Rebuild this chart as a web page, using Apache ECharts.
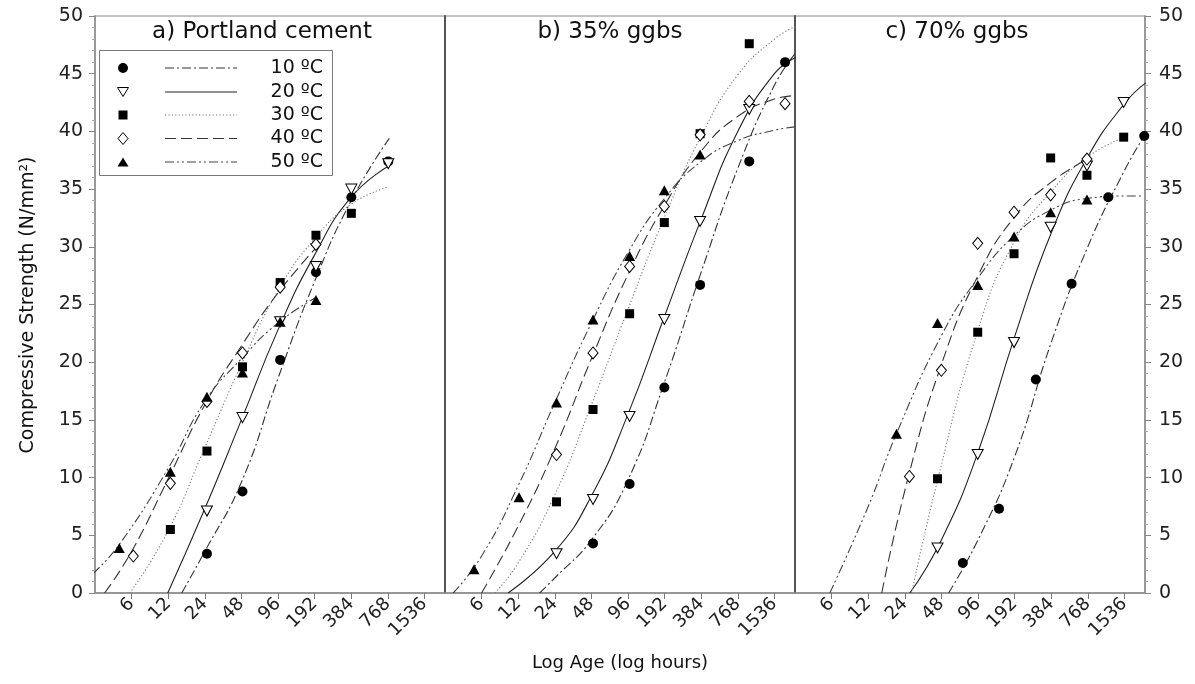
<!DOCTYPE html>
<html><head><meta charset="utf-8">
<script src="https://cdn.jsdelivr.net/npm/echarts@6/dist/echarts.min.js"></script>
<style>html,body{margin:0;padding:0;background:#fff}#c{width:1195px;height:684px}</style>
</head><body><div id="c"></div>
<script>
// ---------- data (age in hours, strength in N/mm2) ----------
const xTickHours = [6, 12, 24, 48, 96, 192, 384, 768, 1536];
const xTickLabels = ['6', '12', '24', '48', '96', '192', '384', '768', '1536'];
const tempLabels = ['10 ºC', '20 ºC', '30 ºC', '40 ºC', '50 ºC'];
const panelTitles = ['a) Portland cement', 'b) 35% ggbs', 'c) 70% ggbs'];

// a) Portland cement — measured
const pc10 = [[25, 3.4], [49, 8.8], [100, 20.2], [197, 27.8], [385, 34.3], [775, 37.4]];
const pc20 = [[25, 7.1], [49, 15.2], [100, 23.5], [197, 28.3], [385, 35.0], [775, 37.2]];
const pc30 = [[12.5, 5.5], [25, 12.3], [49, 19.6], [100, 26.9], [197, 31.0], [385, 32.9]];
const pc40 = [[6.2, 3.2], [12.5, 9.5], [25, 16.6], [49, 20.8], [100, 26.5], [197, 30.2]];
const pc50 = [[4.75, 3.9], [12.5, 10.5], [25, 17.0], [49, 19.1], [100, 23.5], [197, 25.4]];
// a) fitted curves
const pcFit10 = [[15.5, 0], [24, 3.6], [48, 9.6], [96, 18.6], [192, 27.0], [384, 34.0], [790, 39.4]];
const pcFit20 = [[11.9, 0], [24, 7.3], [48, 15.0], [96, 22.8], [192, 29.3], [384, 34.3], [780, 37.0]];
const pcFit30 = [[5.8, 0], [12, 5.4], [24, 12.6], [48, 19.8], [96, 26.2], [192, 30.7], [384, 33.7], [780, 35.2]];
const pcFit40 = [[3.6, 0], [6, 3.6], [12, 9.9], [24, 16.3], [48, 21.4], [96, 26.0], [197, 29.9]];
const pcFit50 = [[2.9, 1.7], [4.75, 4.2], [12, 10.8], [24, 16.6], [48, 20.3], [96, 23.4], [197, 25.6]];

// b) 35% ggbs — measured
const g35_10 = [[49.5, 4.3], [99, 9.45], [191, 17.8], [376, 26.7], [954, 37.4], [1880, 46.0]];
const g35_20 = [[24.8, 3.4], [49.5, 8.1], [99, 15.3], [191, 23.7], [376, 32.2], [954, 41.9]];
const g35_30 = [[24.8, 7.9], [49.5, 15.9], [99, 24.2], [191, 32.1], [376, 39.8], [954, 47.6]];
const g35_40 = [[24.8, 12.0], [49.5, 20.8], [99, 28.3], [191, 33.5], [376, 39.7], [954, 42.6], [1880, 42.4]];
const g35_50 = [[5.2, 2.05], [12.2, 8.3], [24.8, 16.5], [49.5, 23.7], [99, 29.2], [191, 34.9], [376, 38.0]];
// b) fitted curves
const g35Fit10 = [[18, 0], [24, 1.3], [48, 4.6], [96, 9.8], [192, 18.3], [384, 27.8], [768, 36.8], [1536, 44.0], [2300, 46.8]];
const g35Fit20 = [[9.9, 0], [24, 3.6], [48, 8.4], [96, 15.5], [192, 24.0], [384, 32.4], [768, 40.0], [1536, 45.0], [2300, 46.4]];
const g35Fit30 = [[7.7, 0], [12, 2.6], [24, 8.5], [48, 16.3], [96, 24.6], [192, 32.6], [384, 39.6], [768, 44.9], [1536, 48.0], [2300, 49.1]];
const g35Fit40 = [[6, 0], [12, 5.8], [24, 12.5], [48, 20.3], [96, 27.6], [192, 33.6], [384, 38.3], [768, 41.3], [1536, 42.8], [2300, 43.1]];
const g35Fit50 = [[3.5, 0], [6, 3.2], [12, 9.3], [24, 16.5], [48, 23.4], [96, 29.5], [192, 34.2], [384, 37.4], [768, 39.2], [1536, 40.1], [2300, 40.4]];

// c) 70% ggbs — measured
const g70_10 = [[72, 2.6], [143, 7.3], [287, 18.5], [565, 26.8], [1131, 34.3], [2236, 39.6]];
const g70_20 = [[44.6, 3.9], [95.5, 12.0], [190, 21.7], [380, 31.7], [756, 37.0], [1515, 42.5]];
const g70_30 = [[44.6, 9.9], [95.5, 22.6], [190, 29.4], [380, 37.7], [756, 36.2], [1515, 39.5]];
const g70_40 = [[26.2, 10.1], [48, 19.3], [95.5, 30.3], [190, 33.0], [380, 34.5], [756, 37.6]];
const g70_50 = [[20.5, 13.8], [44.6, 23.4], [95.5, 26.7], [190, 30.9], [380, 33.0], [756, 34.1]];
// c) fitted curves
const g70Fit10 = [[55, 0], [96, 4.6], [192, 11.8], [384, 21.7], [768, 30.0], [1536, 36.6], [2236, 39.6]];
const g70Fit20 = [[26.4, 0], [48, 4.6], [96, 12.2], [192, 22.2], [384, 31.2], [768, 37.8], [1536, 42.4], [2300, 44.2]];
const g70Fit30 = [[27.3, 0], [44, 9.5], [96, 22.8], [192, 30.5], [384, 34.8], [768, 37.8], [1536, 39.5]];
const g70Fit40 = [[15.5, 0], [26, 10.3], [48, 19.8], [96, 27.5], [192, 32.6], [384, 35.6], [768, 37.6]];
const g70Fit50 = [[5.8, 0], [12, 7.5], [20.5, 13.8], [48, 22.3], [96, 27.3], [192, 31.0], [384, 33.2], [768, 34.2], [1536, 34.4], [2200, 34.4]];

// ---------- build ----------
const panels = [
  { pts: [pc10, pc20, pc30, pc40, pc50], fits: [pcFit10, pcFit20, pcFit30, pcFit40, pcFit50] },
  { pts: [g35_10, g35_20, g35_30, g35_40, g35_50], fits: [g35Fit10, g35Fit20, g35Fit30, g35Fit40, g35Fit50] },
  { pts: [g70_10, g70_20, g70_30, g70_40, g70_50], fits: [g70Fit10, g70Fit20, g70Fit30, g70Fit40, g70Fit50] }
];

const FONT = 'DejaVu Sans';
const lx = h => Math.log2(h / 3);
const X_MAX = 350 / 36.6;

const symbols = ['circle', 'path://M0,0L10,0L5,9Z', 'rect', 'diamond', 'triangle'];
const symSizes = [10, [11, 10], 9, [10, 12], [11, 10]];
const fills = ['#000', '#fff', '#000', '#fff', '#000'];
const dashes = [[9, 3, 2, 3], 'solid', [1.2, 2.2], [11, 5], [9, 3, 2, 3, 2, 3]];
const lineColors = ['#333', '#222', '#777', '#333', '#444'];

const gridLefts = [95, 445, 795];
const grids = gridLefts.map(l => ({ left: l, top: 16, width: 350, height: 577, show: true, borderColor: '#888', borderWidth: 1, backgroundColor: 'transparent' }));

const tickVals = xTickHours.map(lx);
const xAxes = [0, 1, 2].map(i => ({
  type: 'value', gridIndex: i, min: 0, max: X_MAX,
  splitLine: { show: false },
  axisLine: { show: true, lineStyle: { color: '#888', width: 1.5 } },
  axisTick: { show: true, customValues: tickVals, length: 6, lineStyle: { color: '#777' } },
  axisLabel: {
    show: true, customValues: tickVals, rotate: 45, margin: 8,
    fontFamily: FONT, fontSize: 18, color: '#222',
    formatter: v => { const k = tickVals.findIndex(t => Math.abs(t - v) < 1e-6); return k >= 0 ? xTickLabels[k] : ''; }
  }
}));

const yBase = { type: 'value', min: 0, max: 50, interval: 5, splitLine: { show: false } };
const yAxes = [
  Object.assign({}, yBase, {
    gridIndex: 0, position: 'left',
    axisLine: { show: true, lineStyle: { color: '#999', width: 2 } },
    axisTick: { show: true, length: 6, lineStyle: { color: '#888' } },
    minorTick: { show: true, splitNumber: 5, length: 3, lineStyle: { color: '#aaa' } },
    axisLabel: { margin: 12, fontFamily: FONT, fontSize: 19, color: '#222' }
  }),
  Object.assign({}, yBase, {
    gridIndex: 1, position: 'left',
    axisLine: { show: true, lineStyle: { color: '#555', width: 2 } },
    axisTick: { show: false }, axisLabel: { show: false }
  }),
  Object.assign({}, yBase, {
    gridIndex: 2, position: 'left',
    axisLine: { show: true, lineStyle: { color: '#555', width: 2 } },
    axisTick: { show: false }, axisLabel: { show: false }
  }),
  Object.assign({}, yBase, {
    gridIndex: 2, position: 'right',
    axisLine: { show: true, lineStyle: { color: '#999', width: 2 } },
    axisTick: { show: true, length: 6, lineStyle: { color: '#888' } },
    minorTick: { show: true, splitNumber: 5, length: 3, lineStyle: { color: '#aaa' } },
    axisLabel: { margin: 14, fontFamily: FONT, fontSize: 19, color: '#222' }
  })
];

const series = [];
panels.forEach((p, pi) => {
  p.fits.forEach((f, ti) => {
    series.push({
      type: 'line', xAxisIndex: pi, yAxisIndex: pi, name: tempLabels[ti] + ' fit ' + pi,
      data: f.map(([h, v]) => [lx(h), v]),
      showSymbol: false, symbol: 'none', smooth: 0.5,
      lineStyle: { color: lineColors[ti], width: 1.1, type: dashes[ti] },
      silent: true, z: 2
    });
  });
  p.pts.forEach((d, ti) => {
    series.push({
      type: 'scatter', xAxisIndex: pi, yAxisIndex: pi, name: tempLabels[ti] + ' ' + pi,
      data: d.map(([h, v]) => [lx(h), v]),
      symbol: symbols[ti], symbolSize: symSizes[ti], clip: false,
      itemStyle: { color: fills[ti], borderColor: '#000', borderWidth: fills[ti] === '#fff' ? 1 : 0, opacity: 1 },
      z: 3
    });
  });
});

// legend (graphic) inside panel a
const legRows = [68, 92, 115, 138.5, 162];
const legX = 123;
const legendEls = [
  { type: 'rect', shape: { x: 99.5, y: 50.5, width: 233, height: 125 }, style: { fill: '#fff', stroke: '#777', lineWidth: 1 }, z: 10 }
];
const mk = [
  y => ({ type: 'circle', shape: { cx: legX, cy: y, r: 5 }, style: { fill: '#000' } }),
  y => ({ type: 'polygon', shape: { points: [[legX - 5.5, y - 4.5], [legX + 5.5, y - 4.5], [legX, y + 4.5]] }, style: { fill: '#fff', stroke: '#000', lineWidth: 1 } }),
  y => ({ type: 'rect', shape: { x: legX - 4.5, y: y - 4.5, width: 9, height: 9 }, style: { fill: '#000' } }),
  y => ({ type: 'polygon', shape: { points: [[legX, y - 6], [legX + 5, y], [legX, y + 6], [legX - 5, y]] }, style: { fill: '#fff', stroke: '#000', lineWidth: 1 } }),
  y => ({ type: 'polygon', shape: { points: [[legX - 5.5, y + 4.5], [legX + 5.5, y + 4.5], [legX, y - 4.5]] }, style: { fill: '#000' } })
];
legRows.forEach((y, i) => {
  const m = mk[i](y); m.z = 11; legendEls.push(m);
  legendEls.push({
    type: 'line', shape: { x1: 165, y1: y, x2: 237, y2: y }, z: 11,
    style: { stroke: lineColors[i], lineWidth: 1.1, lineDash: dashes[i] === 'solid' ? null : dashes[i] }
  });
  legendEls.push({
    type: 'text', x: 323, y: y, z: 11,
    style: { text: tempLabels[i], align: 'right', verticalAlign: 'middle', fontFamily: FONT, fontSize: 19, fill: '#111' }
  });
});

const titleCenters = [262, 610, 957];
const titleEls = panelTitles.map((t, i) => ({
  type: 'text', x: titleCenters[i], y: 32, z: 11,
  style: { text: t, align: 'center', verticalAlign: 'middle', fontFamily: FONT, fontSize: 23, fill: '#111' }
}));

const axisTitleEls = [
  { type: 'text', x: 620, y: 663, z: 11, style: { text: 'Log Age (log hours)', align: 'center', verticalAlign: 'middle', fontFamily: FONT, fontSize: 18, fill: '#111' } },
  { type: 'text', x: 28, y: 305, rotation: Math.PI / 2, z: 11, style: { text: 'Compressive Strength (N/mm²)', align: 'center', verticalAlign: 'middle', fontFamily: FONT, fontSize: 19, fill: '#111' } }
];

const chart = echarts.init(document.getElementById('c'), null, { renderer: 'canvas' });
chart.setOption({
  animation: false,
  backgroundColor: '#fff',
  grid: grids,
  xAxis: xAxes,
  yAxis: yAxes,
  series: series,
  graphic: legendEls.concat(titleEls, axisTitleEls)
});
</script>
</body></html>
